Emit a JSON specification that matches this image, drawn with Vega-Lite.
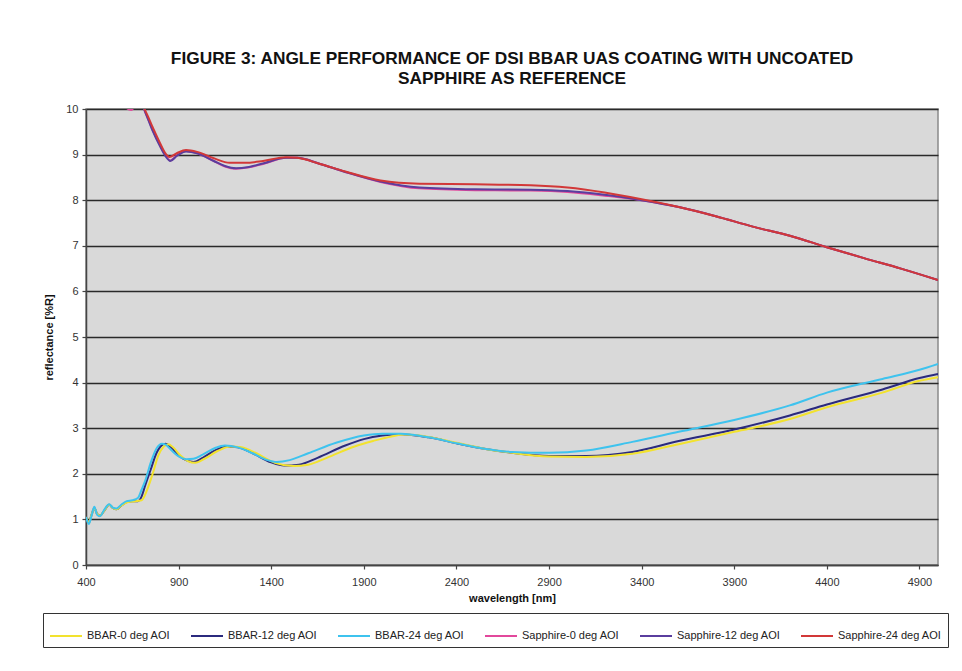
{
  "$schema": "https://vega.github.io/schema/vega-lite/v6.json",
  "autosize": "none",
  "width": 852,
  "height": 456,
  "padding": {"left": 86, "top": 109, "right": 24, "bottom": 106},
  "background": "white",
  "title": {
    "text": ["FIGURE 3: ANGLE PERFORMANCE OF DSI BBAR UAS COATING WITH UNCOATED", "SAPPHIRE AS REFERENCE"],
    "font": "Liberation Sans",
    "fontSize": 17.3,
    "fontWeight": "bold",
    "color": "#111",
    "lineHeight": 20,
    "offset": 16,
    "anchor": "middle"
  },
  "config": {
    "view": {"fill": "#D9D9D9", "stroke": "#8a8a8a", "strokeWidth": 1.5},
    "axis": {"labelFont": "Liberation Sans", "titleFont": "Liberation Sans", "labelFontSize": 11, "labelColor": "#333", "titleFontSize": 11, "titleFontWeight": "bold", "titleColor": "#111", "domainColor": "#444", "domainWidth": 1.5, "tickColor": "#444", "tickWidth": 1.2, "tickSize": 4, "labelFlush": false},
    "legend": {"labelFont": "Liberation Sans"}
  },
  "data": {"values": [
    {"s":"BBAR-12 deg AOI","nm":400,"r":1.05},{"s":"BBAR-12 deg AOI","nm":415,"r":0.93},{"s":"BBAR-12 deg AOI","nm":430,"r":1.1},{"s":"BBAR-12 deg AOI","nm":445,"r":1.25},{"s":"BBAR-12 deg AOI","nm":460,"r":1.12},{"s":"BBAR-12 deg AOI","nm":475,"r":1.08},{"s":"BBAR-12 deg AOI","nm":500,"r":1.2},{"s":"BBAR-12 deg AOI","nm":525,"r":1.32},{"s":"BBAR-12 deg AOI","nm":545,"r":1.25},{"s":"BBAR-12 deg AOI","nm":565,"r":1.22},{"s":"BBAR-12 deg AOI","nm":590,"r":1.3},{"s":"BBAR-12 deg AOI","nm":620,"r":1.38},{"s":"BBAR-12 deg AOI","nm":650,"r":1.4},{"s":"BBAR-12 deg AOI","nm":680,"r":1.4},{"s":"BBAR-12 deg AOI","nm":700,"r":1.5},{"s":"BBAR-12 deg AOI","nm":720,"r":1.75},{"s":"BBAR-12 deg AOI","nm":750,"r":2.1},{"s":"BBAR-12 deg AOI","nm":780,"r":2.45},{"s":"BBAR-12 deg AOI","nm":810,"r":2.63},{"s":"BBAR-12 deg AOI","nm":830,"r":2.66},{"s":"BBAR-12 deg AOI","nm":860,"r":2.58},{"s":"BBAR-12 deg AOI","nm":900,"r":2.4},{"s":"BBAR-12 deg AOI","nm":940,"r":2.3},{"s":"BBAR-12 deg AOI","nm":980,"r":2.26},{"s":"BBAR-12 deg AOI","nm":1030,"r":2.35},{"s":"BBAR-12 deg AOI","nm":1100,"r":2.52},{"s":"BBAR-12 deg AOI","nm":1160,"r":2.6},{"s":"BBAR-12 deg AOI","nm":1220,"r":2.58},{"s":"BBAR-12 deg AOI","nm":1300,"r":2.45},{"s":"BBAR-12 deg AOI","nm":1400,"r":2.25},{"s":"BBAR-12 deg AOI","nm":1470,"r":2.18},{"s":"BBAR-12 deg AOI","nm":1550,"r":2.2},{"s":"BBAR-12 deg AOI","nm":1650,"r":2.35},{"s":"BBAR-12 deg AOI","nm":1800,"r":2.62},{"s":"BBAR-12 deg AOI","nm":1900,"r":2.76},{"s":"BBAR-12 deg AOI","nm":2000,"r":2.84},{"s":"BBAR-12 deg AOI","nm":2100,"r":2.87},{"s":"BBAR-12 deg AOI","nm":2250,"r":2.8},{"s":"BBAR-12 deg AOI","nm":2400,"r":2.67},{"s":"BBAR-12 deg AOI","nm":2550,"r":2.55},{"s":"BBAR-12 deg AOI","nm":2700,"r":2.46},{"s":"BBAR-12 deg AOI","nm":2900,"r":2.39},{"s":"BBAR-12 deg AOI","nm":3100,"r":2.39},{"s":"BBAR-12 deg AOI","nm":3350,"r":2.48},{"s":"BBAR-12 deg AOI","nm":3600,"r":2.72},{"s":"BBAR-12 deg AOI","nm":3900,"r":2.97},{"s":"BBAR-12 deg AOI","nm":4200,"r":3.28},{"s":"BBAR-12 deg AOI","nm":4400,"r":3.52},{"s":"BBAR-12 deg AOI","nm":4700,"r":3.85},{"s":"BBAR-12 deg AOI","nm":4900,"r":4.1},{"s":"BBAR-12 deg AOI","nm":5000,"r":4.19},

    {"s":"BBAR-0 deg AOI","nm":400,"r":1.05},{"s":"BBAR-0 deg AOI","nm":415,"r":0.93},{"s":"BBAR-0 deg AOI","nm":430,"r":1.1},{"s":"BBAR-0 deg AOI","nm":445,"r":1.25},{"s":"BBAR-0 deg AOI","nm":460,"r":1.12},{"s":"BBAR-0 deg AOI","nm":475,"r":1.08},{"s":"BBAR-0 deg AOI","nm":500,"r":1.2},{"s":"BBAR-0 deg AOI","nm":525,"r":1.32},{"s":"BBAR-0 deg AOI","nm":545,"r":1.25},{"s":"BBAR-0 deg AOI","nm":565,"r":1.22},{"s":"BBAR-0 deg AOI","nm":590,"r":1.3},{"s":"BBAR-0 deg AOI","nm":620,"r":1.37},{"s":"BBAR-0 deg AOI","nm":650,"r":1.39},{"s":"BBAR-0 deg AOI","nm":700,"r":1.42},{"s":"BBAR-0 deg AOI","nm":730,"r":1.65},{"s":"BBAR-0 deg AOI","nm":760,"r":2.0},{"s":"BBAR-0 deg AOI","nm":790,"r":2.4},{"s":"BBAR-0 deg AOI","nm":820,"r":2.6},{"s":"BBAR-0 deg AOI","nm":845,"r":2.65},{"s":"BBAR-0 deg AOI","nm":870,"r":2.58},{"s":"BBAR-0 deg AOI","nm":910,"r":2.4},{"s":"BBAR-0 deg AOI","nm":950,"r":2.28},{"s":"BBAR-0 deg AOI","nm":990,"r":2.24},{"s":"BBAR-0 deg AOI","nm":1040,"r":2.33},{"s":"BBAR-0 deg AOI","nm":1110,"r":2.5},{"s":"BBAR-0 deg AOI","nm":1180,"r":2.6},{"s":"BBAR-0 deg AOI","nm":1240,"r":2.58},{"s":"BBAR-0 deg AOI","nm":1320,"r":2.45},{"s":"BBAR-0 deg AOI","nm":1420,"r":2.24},{"s":"BBAR-0 deg AOI","nm":1520,"r":2.17},{"s":"BBAR-0 deg AOI","nm":1600,"r":2.2},{"s":"BBAR-0 deg AOI","nm":1700,"r":2.35},{"s":"BBAR-0 deg AOI","nm":1850,"r":2.6},{"s":"BBAR-0 deg AOI","nm":1950,"r":2.72},{"s":"BBAR-0 deg AOI","nm":2050,"r":2.82},{"s":"BBAR-0 deg AOI","nm":2120,"r":2.86},{"s":"BBAR-0 deg AOI","nm":2250,"r":2.81},{"s":"BBAR-0 deg AOI","nm":2400,"r":2.68},{"s":"BBAR-0 deg AOI","nm":2550,"r":2.55},{"s":"BBAR-0 deg AOI","nm":2700,"r":2.46},{"s":"BBAR-0 deg AOI","nm":2900,"r":2.38},{"s":"BBAR-0 deg AOI","nm":3100,"r":2.37},{"s":"BBAR-0 deg AOI","nm":3350,"r":2.44},{"s":"BBAR-0 deg AOI","nm":3600,"r":2.65},{"s":"BBAR-0 deg AOI","nm":3900,"r":2.92},{"s":"BBAR-0 deg AOI","nm":4200,"r":3.2},{"s":"BBAR-0 deg AOI","nm":4400,"r":3.46},{"s":"BBAR-0 deg AOI","nm":4700,"r":3.78},{"s":"BBAR-0 deg AOI","nm":4900,"r":4.04},{"s":"BBAR-0 deg AOI","nm":5000,"r":4.12},

    {"s":"BBAR-24 deg AOI","nm":400,"r":1.05},{"s":"BBAR-24 deg AOI","nm":415,"r":0.9},{"s":"BBAR-24 deg AOI","nm":430,"r":1.08},{"s":"BBAR-24 deg AOI","nm":445,"r":1.28},{"s":"BBAR-24 deg AOI","nm":460,"r":1.1},{"s":"BBAR-24 deg AOI","nm":475,"r":1.07},{"s":"BBAR-24 deg AOI","nm":500,"r":1.22},{"s":"BBAR-24 deg AOI","nm":525,"r":1.33},{"s":"BBAR-24 deg AOI","nm":545,"r":1.26},{"s":"BBAR-24 deg AOI","nm":565,"r":1.24},{"s":"BBAR-24 deg AOI","nm":590,"r":1.32},{"s":"BBAR-24 deg AOI","nm":620,"r":1.4},{"s":"BBAR-24 deg AOI","nm":650,"r":1.42},{"s":"BBAR-24 deg AOI","nm":680,"r":1.47},{"s":"BBAR-24 deg AOI","nm":700,"r":1.65},{"s":"BBAR-24 deg AOI","nm":720,"r":1.85},{"s":"BBAR-24 deg AOI","nm":750,"r":2.25},{"s":"BBAR-24 deg AOI","nm":780,"r":2.55},{"s":"BBAR-24 deg AOI","nm":810,"r":2.66},{"s":"BBAR-24 deg AOI","nm":830,"r":2.64},{"s":"BBAR-24 deg AOI","nm":860,"r":2.52},{"s":"BBAR-24 deg AOI","nm":900,"r":2.38},{"s":"BBAR-24 deg AOI","nm":940,"r":2.32},{"s":"BBAR-24 deg AOI","nm":980,"r":2.33},{"s":"BBAR-24 deg AOI","nm":1030,"r":2.42},{"s":"BBAR-24 deg AOI","nm":1100,"r":2.57},{"s":"BBAR-24 deg AOI","nm":1150,"r":2.62},{"s":"BBAR-24 deg AOI","nm":1220,"r":2.58},{"s":"BBAR-24 deg AOI","nm":1300,"r":2.45},{"s":"BBAR-24 deg AOI","nm":1380,"r":2.3},{"s":"BBAR-24 deg AOI","nm":1430,"r":2.26},{"s":"BBAR-24 deg AOI","nm":1500,"r":2.3},{"s":"BBAR-24 deg AOI","nm":1600,"r":2.45},{"s":"BBAR-24 deg AOI","nm":1750,"r":2.68},{"s":"BBAR-24 deg AOI","nm":1900,"r":2.84},{"s":"BBAR-24 deg AOI","nm":2000,"r":2.88},{"s":"BBAR-24 deg AOI","nm":2100,"r":2.88},{"s":"BBAR-24 deg AOI","nm":2250,"r":2.8},{"s":"BBAR-24 deg AOI","nm":2400,"r":2.67},{"s":"BBAR-24 deg AOI","nm":2550,"r":2.55},{"s":"BBAR-24 deg AOI","nm":2700,"r":2.48},{"s":"BBAR-24 deg AOI","nm":2900,"r":2.46},{"s":"BBAR-24 deg AOI","nm":3100,"r":2.51},{"s":"BBAR-24 deg AOI","nm":3350,"r":2.7},{"s":"BBAR-24 deg AOI","nm":3600,"r":2.92},{"s":"BBAR-24 deg AOI","nm":3900,"r":3.18},{"s":"BBAR-24 deg AOI","nm":4200,"r":3.5},{"s":"BBAR-24 deg AOI","nm":4400,"r":3.78},{"s":"BBAR-24 deg AOI","nm":4700,"r":4.08},{"s":"BBAR-24 deg AOI","nm":4900,"r":4.28},{"s":"BBAR-24 deg AOI","nm":5000,"r":4.41},

    {"s":"Sapphire-0 deg AOI","nm":560,"r":10.6},{"s":"Sapphire-0 deg AOI","nm":620,"r":10.02},{"s":"Sapphire-0 deg AOI","nm":645,"r":9.98},{"s":"Sapphire-0 deg AOI","nm":670,"r":10.08},{"s":"Sapphire-0 deg AOI","nm":705,"r":10.05},{"s":"Sapphire-0 deg AOI","nm":725,"r":9.88},{"s":"Sapphire-0 deg AOI","nm":760,"r":9.54},{"s":"Sapphire-0 deg AOI","nm":800,"r":9.2},{"s":"Sapphire-0 deg AOI","nm":830,"r":8.98},{"s":"Sapphire-0 deg AOI","nm":855,"r":8.87},{"s":"Sapphire-0 deg AOI","nm":890,"r":8.98},{"s":"Sapphire-0 deg AOI","nm":940,"r":9.08},{"s":"Sapphire-0 deg AOI","nm":1000,"r":9.03},{"s":"Sapphire-0 deg AOI","nm":1090,"r":8.86},{"s":"Sapphire-0 deg AOI","nm":1150,"r":8.74},{"s":"Sapphire-0 deg AOI","nm":1210,"r":8.69},{"s":"Sapphire-0 deg AOI","nm":1280,"r":8.72},{"s":"Sapphire-0 deg AOI","nm":1360,"r":8.8},{"s":"Sapphire-0 deg AOI","nm":1480,"r":8.93},{"s":"Sapphire-0 deg AOI","nm":1540,"r":8.93},{"s":"Sapphire-0 deg AOI","nm":1660,"r":8.8},{"s":"Sapphire-0 deg AOI","nm":1800,"r":8.62},{"s":"Sapphire-0 deg AOI","nm":1990,"r":8.4},{"s":"Sapphire-0 deg AOI","nm":2200,"r":8.26},{"s":"Sapphire-0 deg AOI","nm":2500,"r":8.22},{"s":"Sapphire-0 deg AOI","nm":2800,"r":8.21},{"s":"Sapphire-0 deg AOI","nm":3000,"r":8.18},{"s":"Sapphire-0 deg AOI","nm":3200,"r":8.1},{"s":"Sapphire-0 deg AOI","nm":3400,"r":8.0},{"s":"Sapphire-0 deg AOI","nm":3600,"r":7.85},{"s":"Sapphire-0 deg AOI","nm":3800,"r":7.65},{"s":"Sapphire-0 deg AOI","nm":4000,"r":7.42},{"s":"Sapphire-0 deg AOI","nm":4200,"r":7.22},{"s":"Sapphire-0 deg AOI","nm":4400,"r":6.97},{"s":"Sapphire-0 deg AOI","nm":4600,"r":6.73},{"s":"Sapphire-0 deg AOI","nm":4800,"r":6.5},{"s":"Sapphire-0 deg AOI","nm":5000,"r":6.25},

    {"s":"Sapphire-12 deg AOI","nm":560,"r":10.6},{"s":"Sapphire-12 deg AOI","nm":620,"r":10.05},{"s":"Sapphire-12 deg AOI","nm":645,"r":10.02},{"s":"Sapphire-12 deg AOI","nm":670,"r":10.1},{"s":"Sapphire-12 deg AOI","nm":705,"r":10.05},{"s":"Sapphire-12 deg AOI","nm":725,"r":9.88},{"s":"Sapphire-12 deg AOI","nm":760,"r":9.52},{"s":"Sapphire-12 deg AOI","nm":800,"r":9.18},{"s":"Sapphire-12 deg AOI","nm":830,"r":8.96},{"s":"Sapphire-12 deg AOI","nm":855,"r":8.86},{"s":"Sapphire-12 deg AOI","nm":890,"r":8.97},{"s":"Sapphire-12 deg AOI","nm":940,"r":9.07},{"s":"Sapphire-12 deg AOI","nm":1000,"r":9.03},{"s":"Sapphire-12 deg AOI","nm":1090,"r":8.86},{"s":"Sapphire-12 deg AOI","nm":1150,"r":8.75},{"s":"Sapphire-12 deg AOI","nm":1210,"r":8.7},{"s":"Sapphire-12 deg AOI","nm":1280,"r":8.73},{"s":"Sapphire-12 deg AOI","nm":1360,"r":8.81},{"s":"Sapphire-12 deg AOI","nm":1480,"r":8.93},{"s":"Sapphire-12 deg AOI","nm":1540,"r":8.93},{"s":"Sapphire-12 deg AOI","nm":1660,"r":8.8},{"s":"Sapphire-12 deg AOI","nm":1800,"r":8.62},{"s":"Sapphire-12 deg AOI","nm":1990,"r":8.41},{"s":"Sapphire-12 deg AOI","nm":2200,"r":8.28},{"s":"Sapphire-12 deg AOI","nm":2500,"r":8.24},{"s":"Sapphire-12 deg AOI","nm":2800,"r":8.23},{"s":"Sapphire-12 deg AOI","nm":3000,"r":8.2},{"s":"Sapphire-12 deg AOI","nm":3200,"r":8.12},{"s":"Sapphire-12 deg AOI","nm":3400,"r":8.0},{"s":"Sapphire-12 deg AOI","nm":3600,"r":7.85},{"s":"Sapphire-12 deg AOI","nm":3800,"r":7.65},{"s":"Sapphire-12 deg AOI","nm":4000,"r":7.42},{"s":"Sapphire-12 deg AOI","nm":4200,"r":7.22},{"s":"Sapphire-12 deg AOI","nm":4400,"r":6.97},{"s":"Sapphire-12 deg AOI","nm":4600,"r":6.73},{"s":"Sapphire-12 deg AOI","nm":4800,"r":6.5},{"s":"Sapphire-12 deg AOI","nm":5000,"r":6.25},

    {"s":"Sapphire-24 deg AOI","nm":560,"r":10.6},{"s":"Sapphire-24 deg AOI","nm":640,"r":10.12},{"s":"Sapphire-24 deg AOI","nm":700,"r":10.1},{"s":"Sapphire-24 deg AOI","nm":725,"r":9.92},{"s":"Sapphire-24 deg AOI","nm":760,"r":9.6},{"s":"Sapphire-24 deg AOI","nm":800,"r":9.25},{"s":"Sapphire-24 deg AOI","nm":830,"r":9.02},{"s":"Sapphire-24 deg AOI","nm":850,"r":8.95},{"s":"Sapphire-24 deg AOI","nm":890,"r":9.03},{"s":"Sapphire-24 deg AOI","nm":940,"r":9.1},{"s":"Sapphire-24 deg AOI","nm":1000,"r":9.06},{"s":"Sapphire-24 deg AOI","nm":1090,"r":8.92},{"s":"Sapphire-24 deg AOI","nm":1176,"r":8.82},{"s":"Sapphire-24 deg AOI","nm":1260,"r":8.82},{"s":"Sapphire-24 deg AOI","nm":1356,"r":8.86},{"s":"Sapphire-24 deg AOI","nm":1480,"r":8.94},{"s":"Sapphire-24 deg AOI","nm":1540,"r":8.93},{"s":"Sapphire-24 deg AOI","nm":1660,"r":8.8},{"s":"Sapphire-24 deg AOI","nm":1800,"r":8.63},{"s":"Sapphire-24 deg AOI","nm":1990,"r":8.43},{"s":"Sapphire-24 deg AOI","nm":2200,"r":8.36},{"s":"Sapphire-24 deg AOI","nm":2500,"r":8.35},{"s":"Sapphire-24 deg AOI","nm":2800,"r":8.33},{"s":"Sapphire-24 deg AOI","nm":3000,"r":8.28},{"s":"Sapphire-24 deg AOI","nm":3200,"r":8.17},{"s":"Sapphire-24 deg AOI","nm":3400,"r":8.02},{"s":"Sapphire-24 deg AOI","nm":3600,"r":7.85},{"s":"Sapphire-24 deg AOI","nm":3800,"r":7.65},{"s":"Sapphire-24 deg AOI","nm":4000,"r":7.42},{"s":"Sapphire-24 deg AOI","nm":4200,"r":7.22},{"s":"Sapphire-24 deg AOI","nm":4400,"r":6.97},{"s":"Sapphire-24 deg AOI","nm":4600,"r":6.73},{"s":"Sapphire-24 deg AOI","nm":4800,"r":6.5},{"s":"Sapphire-24 deg AOI","nm":5000,"r":6.25}
  ]},
  "mark": {"type": "line", "clip": true, "strokeWidth": 2, "interpolate": "monotone"},
  "encoding": {
    "x": {
      "field": "nm", "type": "quantitative",
      "scale": {"domain": [400, 5000], "nice": false, "zero": false},
      "axis": {"values": [400, 900, 1400, 1900, 2400, 2900, 3400, 3900, 4400, 4900], "format": "d", "grid": false, "title": "wavelength [nm]", "labelPadding": 7, "titlePadding": 5}
    },
    "y": {
      "field": "r", "type": "quantitative",
      "scale": {"domain": [0, 10], "nice": false},
      "axis": {"values": [0,1,2,3,4,5,6,7,8,9,10], "grid": true, "gridColor": "#2a2a2a", "gridWidth": 1.3, "gridOpacity": 1, "title": "reflectance [%R]", "labelPadding": 4, "titlePadding": 11}
    },
    "color": {
      "field": "s", "type": "nominal",
      "sort": ["BBAR-0 deg AOI", "BBAR-12 deg AOI", "BBAR-24 deg AOI", "Sapphire-0 deg AOI", "Sapphire-12 deg AOI", "Sapphire-24 deg AOI"],
      "scale": {
        "domain": ["BBAR-0 deg AOI", "BBAR-12 deg AOI", "BBAR-24 deg AOI", "Sapphire-0 deg AOI", "Sapphire-12 deg AOI", "Sapphire-24 deg AOI"],
        "range": ["#F2E22E", "#2B2A7E", "#3EC3EE", "#E2489C", "#5A3E9E", "#D23838"]
      },
      "legend": {
        "title": null, "orient": "none", "legendX": -43, "legendY": 504,
        "direction": "horizontal", "columns": 6,
        "symbolType": "stroke", "symbolSize": 1024, "symbolStrokeWidth": 2,
        "labelFontSize": 11, "labelColor": "#222", "labelOffset": 4, "labelLimit": 300,
        "columnPadding": 16, "padding": 6, "strokeColor": "#333", "fillColor": "white"
      }
    },
    "order": {"field": "nm", "type": "quantitative"}
  }
}
